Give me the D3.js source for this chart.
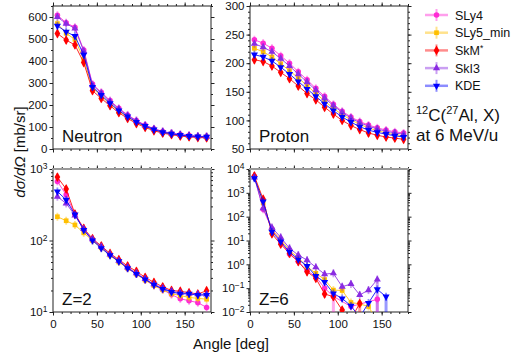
<!DOCTYPE html>
<html>
<head>
<meta charset="utf-8">
<script src="https://cdn.jsdelivr.net/npm/d3@7"></script>
<style>
  body { margin: 0; background: #fff; }
  text { font-family: "Liberation Sans", Arial, sans-serif; fill: #111; }
</style>
</head>
<body>
<svg id="chart" width="523" height="358"></svg>
<script>
// angles of the data points (deg)
const angles = [5, 15, 25, 35, 45, 55, 65, 75, 85, 95, 105, 115, 125, 135, 145, 155, 165, 175];

const seriesNames = ['SLy4', 'SLy5_min', 'SkM*', 'SkI3', 'KDE'];
const seriesColors = ['#ff2ad4', '#ffbf00', '#ff0000', '#8a2be2', '#0000ff'];

// Neutron [mb/sr]
const neutronSLy4 = [608, 574, 553, 450, 295, 258, 220, 185, 155, 130, 109, 92, 80, 72, 66, 62, 58, 57];
const neutronSLy5 = [570, 526, 498, 408, 278, 240, 205, 172, 145, 121, 102, 87, 75, 68, 62, 58, 55, 54];
const neutronSkM = [525, 495, 473, 393, 265, 230, 197, 165, 139, 116, 98, 83, 72, 65, 59, 55, 52, 51];
const neutronSkI3 = [600, 570, 548, 445, 290, 254, 216, 182, 152, 128, 107, 91, 79, 71, 65, 61, 58, 56];
const neutronKDE = [560, 533, 513, 428, 282, 245, 208, 175, 147, 123, 104, 88, 76, 69, 63, 59, 56, 55];

// Proton [mb/sr]
const protonSLy4 = [241, 235, 226, 213, 200, 185, 171, 156, 142, 128, 116, 106, 98, 92, 87, 83, 80, 78];
const protonSLy5 = [226, 220, 211, 199, 187, 174, 161, 147, 134, 121, 110, 101, 93, 87, 82, 78, 75, 73];
const protonSkM = [206, 203, 195, 184, 173, 160, 147, 136, 123, 111, 100, 91, 84, 78, 74, 71, 69, 67];
const protonSkI3 = [234, 228, 220, 208, 195, 181, 167, 153, 139, 126, 114, 104, 96, 90, 85, 81, 78, 76];
const protonKDE = [215, 211, 204, 193, 181, 168, 155, 142, 129, 117, 106, 97, 89, 83, 79, 76, 73, 71];

// Z=2 [mb/sr]
const z2SLy4 = [670, 435, 230, 142, 102, 80, 63, 51, 41, 34, 28, 23.5, 20.5, 17.5, 15.3, 14.4, 13.5, 11.6];
const z2SLy5 = [215, 189, 165, 128, 100, 79, 62, 50, 41, 34, 28, 23.5, 20.5, 18, 17, 16, 15.5, 15.1];
const z2SkM = [770, 525, 235, 148, 106, 84, 66, 54, 44, 37, 30.5, 26, 22.5, 20, 19.5, 18.6, 17.9, 19.8];
const z2SkI3 = [410, 330, 225, 145, 104, 82, 64, 52, 42, 35, 29, 24.5, 21.5, 19.5, 18.5, 18, 17.8, 17.6];
const z2KDE = [485, 370, 230, 140, 100, 78, 62, 51, 41, 34, 28.5, 24, 21, 19, 18, 17.9, 17.2, 17.3];

// Z=6 [mb/sr], null = no point
const z6SLy4 = [4800, 205, 30, 9, 2.7, 1.3, 0.55, 0.3, 0.1, 0.045, null, 0.017, null, null, 0.034, null, null, null];
const z6SLy5 = [4600, 380, 27, 11, 3.8, 1.9, 0.8, 0.42, 0.23, 0.083, 0.08, 0.025, 0.022, 0.017, 0.004, null, null, null];
const z6SkM = [5100, 540, 19, 7, 2.9, 1.3, 0.49, 0.26, 0.057, 0.044, 0.012, 0.005, 0.023, null, null, null, null, null];
const z6SkI3 = [4400, 225, 35, 13.5, 4.7, 2.45, 1.5, 0.75, 0.39, 0.42, 0.115, 0.15, 0.052, 0.083, 0.23, null, null, null];
const z6KDE = [4100, 430, 23, 9, 3.3, 1.6, 0.85, 0.32, 0.18, 0.06, 0.037, 0.018, 0.006, 0.024, 0.089, 0.044, null, null];

// large error bars in the Z=6 panel: [series, angle, lower value]
const z6ErrorBars = [['SLy4', 95, 0.001], ['SkM*', 105, 0.001], ['SkM*', 125, 0.001],
  ['SLy4', 145, 0.001], ['SkI3', 145, 0.001], ['KDE', 155, 0.001]];

const svg = d3.select('#chart');
const PW = 158, PH = 143;

const panels = [
  { name: 'Neutron', x0: 53, y0: 6, type: 'lin', domain: [0, 650], major: d3.range(0, 601, 100), minor: d3.range(50, 651, 100),
    data: [neutronSLy4, neutronSLy5, neutronSkM, neutronSkI3, neutronKDE], xLabels: false },
  { name: 'Proton', x0: 250, y0: 6, type: 'lin', domain: [50, 300], major: d3.range(50, 301, 50), minor: d3.range(50, 301, 10),
    data: [protonSLy4, protonSLy5, protonSkM, protonSkI3, protonKDE], xLabels: false },
  { name: 'Z=2', x0: 53, y0: 169, type: 'log', domain: [10, 1000],
    data: [z2SLy4, z2SLy5, z2SkM, z2SkI3, z2KDE], xLabels: true },
  { name: 'Z=6', x0: 250, y0: 169, type: 'log', domain: [1e-2, 1e4],
    data: [z6SLy4, z6SLy5, z6SkM, z6SkI3, z6KDE], xLabels: true, errors: z6ErrorBars }
];

const symbols = [
  d3.symbol().type(d3.symbolCircle).size(24),
  d3.symbol().type(d3.symbolSquare).size(22),
  d3.symbol().type(d3.symbolDiamond).size(28),
  d3.symbol().type(d3.symbolTriangle).size(22),
  d3.symbol().type(d3.symbolTriangle).size(22)
];

function logMinor(domain) {
  const out = [];
  for (let e = Math.round(Math.log10(domain[0])); e < Math.round(Math.log10(domain[1])); e++) {
    for (let k = 2; k <= 9; k++) out.push(k * Math.pow(10, e));
  }
  return out;
}

function supLabels(sel) {
  sel.selectAll('.tick text').each(function (d) {
    const e = Math.round(Math.log10(d));
    const t = d3.select(this).text('10');
    t.append('tspan').attr('dy', '-4').attr('font-size', '8.5px').text(String(e).replace('-', '\u2212'));
  });
}

panels.forEach((p, pi) => {
  const g = svg.append('g').attr('transform', `translate(${p.x0},${p.y0})`);
  const x = d3.scaleLinear().domain([0, 180]).range([0, PW]);
  const y = (p.type === 'log' ? d3.scaleLog() : d3.scaleLinear()).domain(p.domain).range([PH, 0]);

  let major = p.major, minor = p.minor;
  if (p.type === 'log') {
    major = d3.range(Math.round(Math.log10(p.domain[0])), Math.round(Math.log10(p.domain[1])) + 1).map(e => Math.pow(10, e));
    minor = logMinor(p.domain);
  }

  // minor ticks
  const xMinor = d3.range(0, 181, 10);
  [[d3.axisBottom(x).tickValues(xMinor), `0,${PH}`], [d3.axisTop(x).tickValues(xMinor), '0,0']].forEach(([ax, tr]) => {
    g.append('g').attr('transform', `translate(${tr})`).call(ax.tickSize(2).tickSizeOuter(0).tickFormat(''))
      .call(s => s.select('.domain').remove());
  });
  [[d3.axisLeft(y).tickValues(minor), '0,0'], [d3.axisRight(y).tickValues(minor), `${PW},0`]].forEach(([ax, tr]) => {
    g.append('g').attr('transform', `translate(${tr})`).call(ax.tickSize(2).tickSizeOuter(0).tickFormat(''))
      .call(s => s.select('.domain').remove());
  });

  // major ticks
  const xMajor = [0, 50, 100, 150];
  const bx = g.append('g').attr('transform', `translate(0,${PH})`)
    .call(d3.axisBottom(x).tickValues(xMajor).tickSize(3.5).tickSizeOuter(0).tickPadding(4));
  if (!p.xLabels) bx.selectAll('.tick text').remove();
  g.append('g').call(d3.axisTop(x).tickValues(xMajor).tickSize(3.5).tickSizeOuter(0).tickFormat(''));
  const ly = g.append('g').call(d3.axisLeft(y).tickValues(major).tickSize(3.5).tickSizeOuter(0).tickPadding(2));
  if (p.type === 'log') supLabels(ly);
  g.append('g').attr('transform', `translate(${PW},0)`)
    .call(d3.axisRight(y).tickValues(major).tickSize(3.5).tickSizeOuter(0).tickFormat(''));

  g.selectAll('.tick text').attr('font-size', '11.5px').attr('fill', '#111')
    .attr('font-family', '"Liberation Sans", Arial, sans-serif');
  g.selectAll('.tick line').attr('stroke', '#222');
  g.selectAll('.domain').remove();

  // frame
  g.append('rect').attr('width', PW).attr('height', PH).attr('fill', 'none').attr('stroke', '#222').attr('stroke-width', 1);
  if (p.y0 > 100) {
    g.append('line').attr('x1', -1).attr('x2', PW + 1).attr('y1', 0).attr('y2', 0)
      .attr('stroke', '#9a9a9a').attr('stroke-width', 2.2);
  }

  // clip
  const clipId = 'clip' + pi;
  g.append('clipPath').attr('id', clipId).append('rect').attr('width', PW).attr('height', PH);
  const plot = g.append('g').attr('clip-path', `url(#${clipId})`);

  // big error bars
  (p.errors || []).forEach(([name, a, low]) => {
    const si = seriesNames.indexOf(name);
    const v = p.data[si][angles.indexOf(a)];
    plot.append('line').attr('x1', x(a)).attr('x2', x(a)).attr('y1', y(v)).attr('y2', y(Math.max(low, p.domain[0] * 0.5)))
      .attr('stroke', seriesColors[si]).attr('stroke-opacity', 0.4).attr('stroke-width', 3);
  });

  const line = d3.line().x(d => x(d.a)).y(d => y(d.v));
  p.data.forEach((vals, si) => {
    const pts = angles.map((a, i) => ({ a, v: vals[i] })).filter(d => d.v != null);
    plot.append('path').datum(pts).attr('d', line).attr('fill', 'none')
      .attr('stroke', seriesColors[si]).attr('stroke-width', 1).attr('stroke-opacity', 0.85);
    const inside = pts.filter(d => d.v >= p.domain[0]);
    plot.selectAll(null).data(inside).enter().append('line')
      .attr('x1', d => x(d.a)).attr('x2', d => x(d.a))
      .attr('y1', d => y(d.v) - 4).attr('y2', d => y(d.v) + 4)
      .attr('stroke', seriesColors[si]).attr('stroke-opacity', 0.45).attr('stroke-width', 1.8);
    plot.selectAll(null).data(inside).enter().append('path')
      .attr('d', symbols[si])
      .attr('transform', d => `translate(${x(d.a)},${y(d.v)})` + (si === 4 ? ' rotate(180)' : ''))
      .attr('fill', seriesColors[si]);
  });

  g.append('text').attr('x', 9).attr('y', PH - 7).attr('font-size', '17px').text(p.name);
});

// legend
const legend = svg.append('g').attr('transform', 'translate(425,15)');
seriesNames.forEach((name, si) => {
  const row = legend.append('g').attr('transform', `translate(0,${si * 17.7})`);
  row.append('line').attr('x1', 0).attr('x2', 23).attr('stroke', seriesColors[si]).attr('stroke-opacity', 0.45).attr('stroke-width', 2.5);
  row.append('line').attr('x1', 11.5).attr('x2', 11.5).attr('y1', -6).attr('y2', 6)
    .attr('stroke', seriesColors[si]).attr('stroke-opacity', 0.45).attr('stroke-width', 2);
  row.append('path').attr('d', symbols[si])
    .attr('transform', `translate(11.5,0)` + (si === 4 ? ' rotate(180)' : '')).attr('fill', seriesColors[si]);
  const t = row.append('text').attr('x', 30).attr('y', 4.5).attr('font-size', '12.5px');
  if (name === 'SkM*') {
    t.text('SkM');
    t.append('tspan').attr('dy', '-4').attr('font-size', '8.5px').text('*');
  } else {
    t.text(name);
  }
});

// reaction label
const r1 = svg.append('text').attr('x', 416).attr('y', 121).attr('font-size', '17px');
r1.append('tspan').attr('font-size', '11px').attr('dy', '-7').text('12');
r1.append('tspan').attr('dy', '7').text('C(');
r1.append('tspan').attr('font-size', '11px').attr('dy', '-7').text('27');
r1.append('tspan').attr('dy', '7').text('Al, X)');
svg.append('text').attr('x', 416).attr('y', 141).attr('font-size', '17px').text('at 6 MeV/u');

// axis titles
svg.append('text').attr('x', 231).attr('y', 349).attr('text-anchor', 'middle').attr('font-size', '15px').text('Angle [deg]');
const yt = svg.append('text').attr('transform', 'translate(25,152) rotate(-90)').attr('text-anchor', 'middle').attr('font-size', '15px');
yt.append('tspan').attr('font-style', 'italic').text('d\u03c3/d\u03a9');
yt.append('tspan').text(' [mb/sr]');
</script>
</body>
</html>
